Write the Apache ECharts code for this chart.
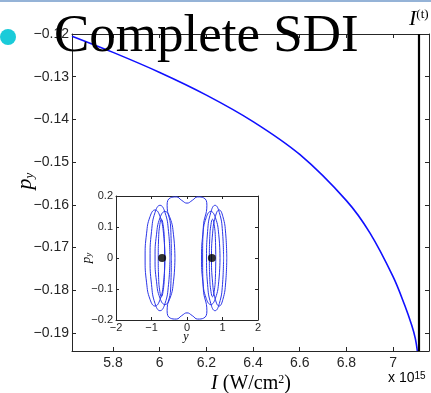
<!DOCTYPE html>
<html><head><meta charset="utf-8">
<script src="https://cdn.jsdelivr.net/npm/echarts@6/dist/echarts.min.js"></script>
<style>html,body{margin:0;padding:0;background:#fff;overflow:hidden}#c{width:431px;height:393px}</style>
</head><body><div id="c"></div>
<script>
// ---- main panel data ----
const intensity = [5.624, 5.8, 6.0, 6.2, 6.4, 6.6, 6.8, 6.9, 7.0, 7.05, 7.08, 7.095, 7.104];
const momentum  = [-0.1205, -0.1243, -0.1290, -0.1343, -0.1405, -0.1482, -0.1590, -0.1665, -0.1768, -0.1835, -0.1882, -0.1912, -0.1942];
const thresholdI = 7.105;
const xTicks = [5.8, 6, 6.2, 6.4, 6.6, 6.8, 7];
const yTicks = [-0.19, -0.18, -0.17, -0.16, -0.15, -0.14, -0.13, -0.12];
const xRange = [5.624, 7.154];
const yRange = [-0.1942, -0.12];

// ---- inset data (y, p_y) ----
const insetTicksX = [-2, -1, 0, 1, 2];
const insetTicksY = [-0.2, -0.1, 0, 0.1, 0.2];
const loopL1 = [[-0.62,0],[-0.66,0.078],[-0.76,0.134],[-0.90,0.155],[-1.04,0.134],[-1.14,0.078],[-1.18,0],[-1.14,-0.078],[-1.04,-0.134],[-0.90,-0.155],[-0.76,-0.134],[-0.66,-0.078],[-0.62,0]];
const loopL2 = [[-0.48,0],[-0.52,0.085],[-0.62,0.147],[-0.76,0.17],[-0.90,0.147],[-1.00,0.085],[-1.04,0],[-1.00,-0.085],[-0.90,-0.147],[-0.76,-0.17],[-0.62,-0.147],[-0.52,-0.085],[-0.48,0]];
const loopL3 = [[-0.34,0],[-0.38,0.075],[-0.48,0.13],[-0.62,0.15],[-0.76,0.13],[-0.86,0.075],[-0.90,0],[-0.86,-0.075],[-0.76,-0.13],[-0.62,-0.15],[-0.48,-0.13],[-0.38,-0.075],[-0.34,0]];
const loopL4 = [[-0.63,0],[-0.64,0.062],[-0.675,0.108],[-0.72,0.125],[-0.765,0.108],[-0.80,0.062],[-0.81,0],[-0.80,-0.062],[-0.765,-0.108],[-0.72,-0.125],[-0.675,-0.108],[-0.64,-0.062],[-0.63,0]];
const loopR1 = [[1.12,0],[1.09,0.078],[1.01,0.134],[0.905,0.155],[0.80,0.134],[0.72,0.078],[0.69,0],[0.72,-0.078],[0.80,-0.134],[0.905,-0.155],[1.01,-0.134],[1.09,-0.078],[1.12,0]];
const loopR2 = [[1.03,0],[1.00,0.085],[0.91,0.147],[0.79,0.17],[0.67,0.147],[0.58,0.085],[0.55,0],[0.58,-0.085],[0.67,-0.147],[0.79,-0.17],[0.91,-0.147],[1.00,-0.085],[1.03,0]];
const loopR3 = [[0.93,0],[0.895,0.075],[0.80,0.13],[0.67,0.15],[0.54,0.13],[0.445,0.075],[0.41,0],[0.445,-0.075],[0.54,-0.13],[0.67,-0.15],[0.80,-0.13],[0.895,-0.075],[0.93,0]];
const loopR4 = [[0.81,0],[0.80,0.062],[0.765,0.108],[0.72,0.125],[0.675,0.108],[0.64,0.062],[0.63,0],[0.64,-0.062],[0.675,-0.108],[0.72,-0.125],[0.765,-0.108],[0.80,-0.062],[0.81,0]];
const loopOuter = [[-0.44,0],[-0.46,0.10],[-0.56,0.170],[-0.47,0.194],[-0.30,0.197],[-0.15,0.186],[0,0.177],[0.15,0.186],[0.30,0.197],[0.47,0.194],[0.56,0.170],[0.46,0.10],[0.44,0],[0.46,-0.10],[0.56,-0.170],[0.47,-0.194],[0.30,-0.197],[0.15,-0.186],[0,-0.177],[-0.15,-0.186],[-0.30,-0.197],[-0.47,-0.194],[-0.56,-0.170],[-0.46,-0.10],[-0.44,0]];
const fixedPoints = [[-0.7, 0], [0.7, 0]];

const axisColor = '#262626';
const sans = 'Liberation Sans';
const serif = 'Liberation Serif';
const minus = v => String(v).replace('-', '\u2212');

const chart = echarts.init(document.getElementById('c'), null, {renderer: 'canvas'});

const mainCurve = intensity.map((v, i) => [v, momentum[i]]);
const insetLoops = [loopL1, loopL2, loopL3, loopL4, loopR1, loopR2, loopR3, loopR4, loopOuter];

function boxAxis(common, extra) { return Object.assign({}, common, extra); }

const mainX = {type: 'value', gridIndex: 0, min: xRange[0], max: xRange[1], splitLine: {show: false},
  axisLine: {show: true, lineStyle: {color: axisColor, width: 1}},
  axisTick: {show: true, inside: true, length: 4, customValues: xTicks, lineStyle: {color: axisColor}}};
const mainY = {type: 'value', gridIndex: 0, min: yRange[0], max: yRange[1], splitLine: {show: false},
  axisLine: {show: true, lineStyle: {color: axisColor, width: 1}},
  axisTick: {show: true, inside: true, length: 4, customValues: yTicks, lineStyle: {color: axisColor}}};
const insX = {type: 'value', gridIndex: 1, min: -2, max: 2, interval: 1, splitLine: {show: false},
  axisLine: {show: true, onZero: false, lineStyle: {color: axisColor, width: 1}},
  axisTick: {show: true, inside: true, length: 3, lineStyle: {color: axisColor}}};
const insY = {type: 'value', gridIndex: 1, min: -0.2, max: 0.2, interval: 0.1, splitLine: {show: false},
  axisLine: {show: true, onZero: false, lineStyle: {color: axisColor, width: 1}},
  axisTick: {show: true, inside: true, length: 3, lineStyle: {color: axisColor}}};

const option = {
  animation: false,
  backgroundColor: '#fff',
  grid: [
    {left: 72, top: 34, width: 357, height: 317, containLabel: false},
    {left: 116, top: 196, width: 142, height: 124, show: true, backgroundColor: '#fff', borderWidth: 0, z: 5}
  ],
  xAxis: [
    boxAxis(mainX, {position: 'bottom', axisLabel: {show: true, customValues: xTicks, margin: 5, color: axisColor, fontFamily: sans, fontSize: 14}}),
    boxAxis(mainX, {position: 'top', axisLabel: {show: false}}),
    boxAxis(insX, {position: 'bottom', z: 6, axisLabel: {show: true, margin: 2, color: axisColor, fontFamily: sans, fontSize: 11, formatter: minus}}),
    boxAxis(insX, {position: 'top', z: 6, axisLabel: {show: false}})
  ],
  yAxis: [
    boxAxis(mainY, {position: 'left', axisLabel: {show: true, customValues: yTicks, margin: 3, color: axisColor, fontFamily: sans, fontSize: 14, formatter: v => minus(Number(v).toFixed(2))}}),
    boxAxis(mainY, {position: 'right', axisLabel: {show: false}}),
    boxAxis(insY, {position: 'left', z: 6, axisLabel: {show: true, margin: 3, color: axisColor, fontFamily: sans, fontSize: 11, formatter: minus}}),
    boxAxis(insY, {position: 'right', z: 6, axisLabel: {show: false}})
  ],
  series: [
    {type: 'line', xAxisIndex: 0, yAxisIndex: 0, data: mainCurve, smooth: 0.35, showSymbol: false, symbol: 'none',
     lineStyle: {color: '#1010ff', width: 1.6}, z: 3,
     markLine: {silent: true, symbol: 'none', label: {show: false}, lineStyle: {color: '#000', width: 2.2, type: 'solid'},
       data: [{xAxis: thresholdI}]}}
  ].concat(insetLoops.map(loop => ({
    type: 'line', xAxisIndex: 2, yAxisIndex: 2, data: loop, smooth: 0.5, showSymbol: false, symbol: 'none',
    lineStyle: {color: '#2a35e8', width: 1}, z: 7
  }))).concat([
    {type: 'scatter', xAxisIndex: 2, yAxisIndex: 2, data: fixedPoints, symbolSize: 8, itemStyle: {color: '#000'}, z: 8}
  ]),
  graphic: [
    {type: 'rect', shape: {x: 0, y: 0, width: 431, height: 2}, style: {fill: '#95B3D7'}, z: 100},
    {type: 'circle', shape: {cx: 8, cy: 37, r: 8}, style: {fill: '#1ACBD9'}, z: 100},
    {type: 'text', x: 54, y: 37, z: 100, style: {text: 'Complete SDI', font: '53px "Liberation Serif"', fill: '#000', verticalAlign: 'middle', align: 'left'}},
    {type: 'text', x: 409, y: 8, z: 100, style: {text: '{i|I}{s|(t)}', verticalAlign: 'top', align: 'left',
      rich: {i: {fontFamily: serif, fontStyle: 'italic', fontSize: 22, fill: '#000'}, s: {fontFamily: serif, fontSize: 13, verticalAlign: 'top', fill: '#000'}}}},
    {type: 'text', x: 251, y: 384, z: 100, style: {text: '{i|I} (W/cm{s|2})', align: 'center', verticalAlign: 'middle',
      rich: {i: {fontFamily: serif, fontStyle: 'italic', fontSize: 20, fill: '#000'}, s: {fontFamily: serif, fontSize: 12, verticalAlign: 'top', fill: '#000'}},
      fontFamily: serif, fontSize: 20, fill: '#000'}},
    {type: 'text', x: 388, y: 378, z: 100, style: {text: 'x 10{s|15}', align: 'left', verticalAlign: 'middle', fontFamily: sans, fontSize: 14, fill: '#000',
      rich: {s: {fontFamily: sans, fontSize: 10, verticalAlign: 'top', fill: '#000'}}}},
    {type: 'text', x: 25, y: 181, rotation: Math.PI / 2, z: 100, style: {text: '{p|p}{s|y}', align: 'center', verticalAlign: 'middle',
      rich: {p: {fontFamily: serif, fontStyle: 'italic', fontSize: 22, fill: '#000'}, s: {fontFamily: serif, fontStyle: 'italic', fontSize: 13, verticalAlign: 'bottom', fill: '#000'}}}},
    {type: 'text', x: 87, y: 258, rotation: Math.PI / 2, z: 100, style: {text: '{p|p}{s|y}', align: 'center', verticalAlign: 'middle',
      rich: {p: {fontFamily: serif, fontStyle: 'italic', fontSize: 13, fill: '#000'}, s: {fontFamily: serif, fontStyle: 'italic', fontSize: 9, verticalAlign: 'bottom', fill: '#000'}}}},
    {type: 'text', x: 186, y: 337, z: 100, style: {text: 'y', align: 'center', verticalAlign: 'middle', fontFamily: serif, fontStyle: 'italic', fontSize: 12, fill: '#000'}}
  ]
};
chart.setOption(option);
</script></body></html>
